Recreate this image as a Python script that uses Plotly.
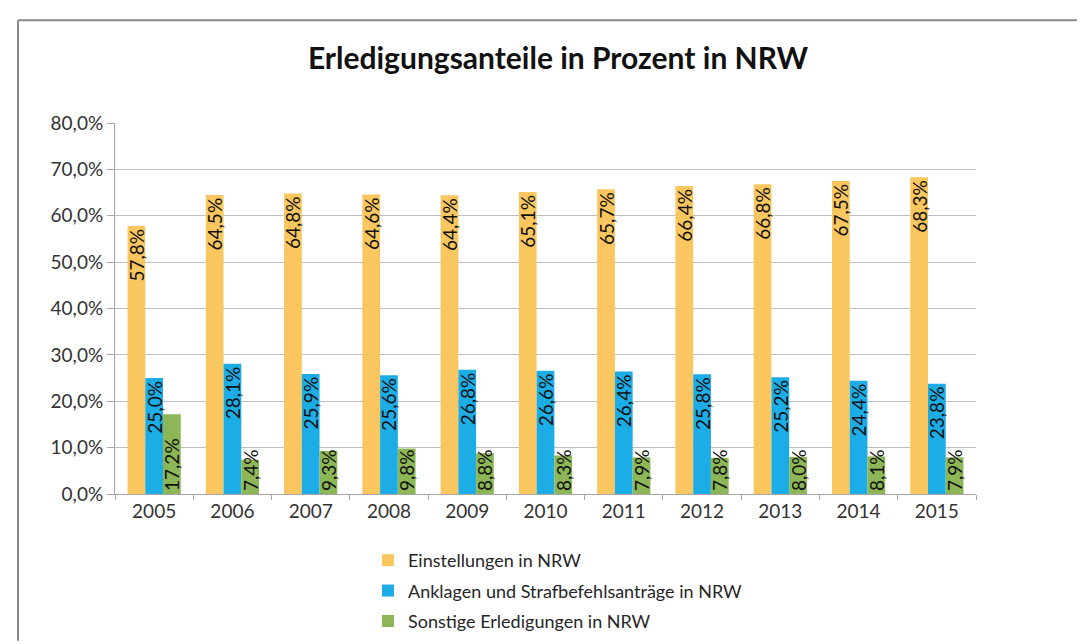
import plotly.graph_objects as go

years = ["2005", "2006", "2007", "2008", "2009", "2010", "2011", "2012", "2013", "2014", "2015"]
einstellungen = [57.8, 64.5, 64.8, 64.6, 64.4, 65.1, 65.7, 66.4, 66.8, 67.5, 68.3]
anklagen = [25.0, 28.1, 25.9, 25.6, 26.8, 26.6, 26.4, 25.8, 25.2, 24.4, 23.8]
sonstige = [17.2, 7.4, 9.3, 9.8, 8.8, 8.3, 7.9, 7.8, 8.0, 8.1, 7.9]

series_names = ["Einstellungen in NRW", "Anklagen und Strafbefehlsanträge in NRW", "Sonstige Erledigungen in NRW"]
series_values = [einstellungen, anklagen, sonstige]
colors = ["#F9C65F", "#1CADE6", "#8DB656"]
anchors = ["end", "end", "start"]
y_ticks = [0, 10, 20, 30, 40, 50, 60, 70, 80]
y_ticktext = ["0,0%", "10,0%", "20,0%", "30,0%", "40,0%", "50,0%", "60,0%", "70,0%", "80,0%"]

FONT = "Lato, 'Open Sans', sans-serif"

W, H = 1085, 644
L, R, T, B = 107, 117, 115, 150
pw, ph = W - L - R, H - T - B

fig = go.Figure()
for name, vals, col, anc in zip(series_names, series_values, colors, anchors):
    fig.add_trace(go.Bar(
        x=years, y=vals, name=name, marker=dict(color=col, line=dict(width=0)),
        text=vals, texttemplate="%{y:.1f}%", textposition="inside",
        insidetextanchor=anc, textangle=-90, constraintext="none",
        textfont=dict(family=FONT, size=19, color="#111111"),
        legendgroup=name,
    ))

def px(xp):
    return (xp - L) / pw

def py(yp):
    return (H - B - yp) / ph

fig.add_shape(type="line", xref="paper", yref="paper", x0=px(10), x1=px(1085), y0=py(10), y1=py(10),
              line=dict(color="#8a8a8a", width=2))
fig.add_shape(type="line", xref="paper", yref="paper", x0=px(10), x1=px(10), y0=py(10), y1=py(644),
              line=dict(color="#8a8a8a", width=2))

fig.update_layout(
    width=W, height=H,
    margin=dict(l=L, r=R, t=T, b=B),
    paper_bgcolor="white", plot_bgcolor="white",
    separators=",.",
    barmode="group", bargap=0.32, bargroupgap=0,
    title=dict(text="<b>Erledigungsanteile in Prozent in NRW</b>", x=550 / W, xref="container", xanchor="center",
               y=1 - 50 / H, yref="container", yanchor="middle",
               font=dict(family=FONT, size=30, color="#111111")),
    font=dict(family=FONT, size=18, color="#333333"),
    xaxis=dict(showline=True, linecolor="#a6a6a6", linewidth=1, ticks="outside", tickson="boundaries",
               ticklen=5, tickcolor="#a6a6a6", tickfont=dict(family=FONT, size=19, color="#333333"),
               showgrid=False),
    yaxis=dict(range=[0, 80], tickmode="array", tickvals=y_ticks, ticktext=y_ticktext,
               showline=True, linecolor="#a6a6a6", linewidth=1, ticks="outside", ticklen=7,
               tickcolor="#a6a6a6", gridcolor="#bfbfbf", gridwidth=1.3, zeroline=False,
               tickfont=dict(family=FONT, size=19, color="#333333")),
    legend=dict(orientation="v", x=(360 - L) / pw, xanchor="left", y=py(543), yanchor="top",
                font=dict(family=FONT, size=18, color="#262626"), tracegroupgap=4,
                bgcolor="rgba(0,0,0,0)"),
    showlegend=True,
)

fig.write_html("out.html")
